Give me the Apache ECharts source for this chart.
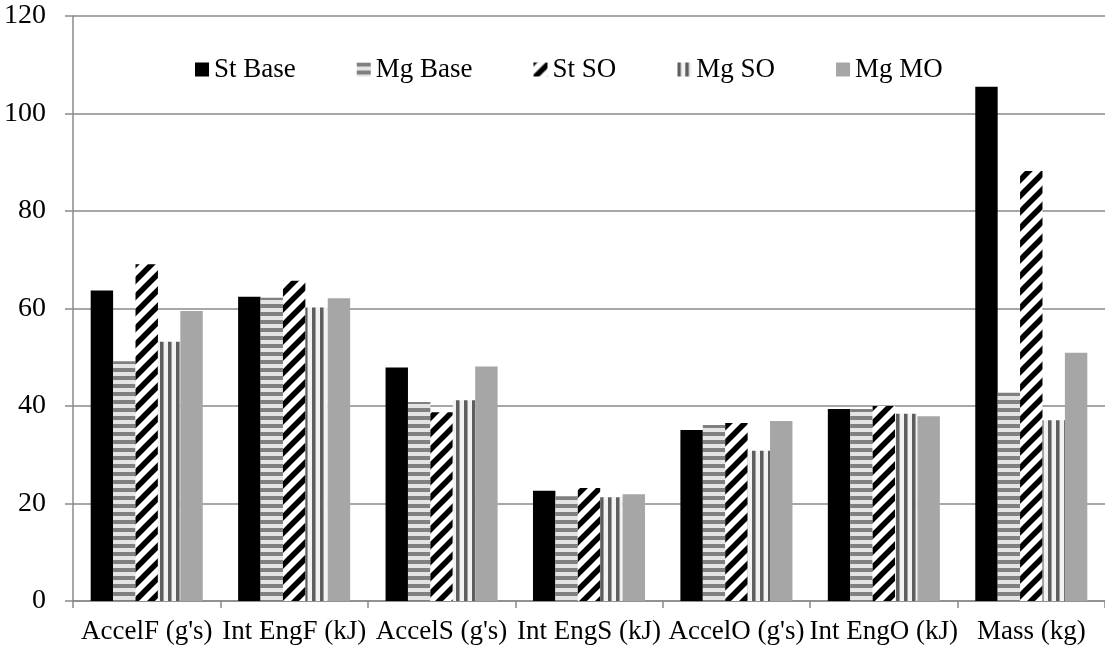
<!DOCTYPE html>
<html>
<head>
<meta charset="utf-8">
<script src="https://cdn.jsdelivr.net/npm/echarts@6/dist/echarts.min.js"></script>
<style>
html,body{margin:0;padding:0;background:#fff;}
#chart{width:1105px;height:663px;}
</style>
</head>
<body>
<div id="chart"></div>
<script>
const categories = ["AccelF (g's)", "Int EngF (kJ)", "AccelS (g's)", "Int EngS (kJ)", "AccelO (g's)", "Int EngO (kJ)", "Mass (kg)"];
const seriesNames = ["St Base", "Mg Base", "St SO", "Mg SO", "Mg MO"];
const stBase = [63.7, 62.4, 47.9, 22.6, 35.1, 39.4, 105.5];
const mgBase = [49.2, 62.2, 40.8, 21.5, 36.1, 39.4, 42.7];
const stSO   = [69.1, 65.7, 38.7, 23.2, 36.5, 40.0, 88.2];
const mgSO   = [53.2, 60.2, 41.2, 21.3, 30.8, 38.4, 37.1];
const mgMO   = [59.5, 62.1, 48.1, 21.9, 36.9, 37.9, 50.9];
const yTicks = [0, 20, 40, 60, 80, 100, 120];

function makeCanvas(w, h, draw) {
  const c = document.createElement('canvas');
  c.width = w; c.height = h;
  const ctx = c.getContext('2d');
  draw(ctx, w, h);
  return c;
}
const hStripes = makeCanvas(8, 8, (ctx, w, h) => {
  ctx.fillStyle = '#e4e4e4'; ctx.fillRect(0, 0, w, h);
  ctx.fillStyle = '#808080'; ctx.fillRect(0, 0, w, 4);
});
const vStripes = makeCanvas(8, 8, (ctx, w, h) => {
  ctx.fillStyle = '#f2f2f2'; ctx.fillRect(0, 0, w, h);
  ctx.fillStyle = '#5e5e5e'; ctx.fillRect(0, 0, 3, h);
  ctx.fillStyle = '#a0a0a0'; ctx.fillRect(3, 0, 1, h);
});
const dStripes = makeCanvas(16, 16, (ctx, w, h) => {
  ctx.fillStyle = '#ffffff'; ctx.fillRect(0, 0, w, h);
  ctx.strokeStyle = '#000000'; ctx.lineWidth = 5.5;
  ctx.beginPath();
  for (let k = -1; k <= 1; k++) {
    ctx.moveTo(-4 + k * w, h + 4);
    ctx.lineTo(w + 4 + k * w, -4);
  }
  ctx.stroke();
});

const fills = [
  '#000000',
  { image: hStripes, repeat: 'repeat' },
  { image: dStripes, repeat: 'repeat' },
  { image: vStripes, repeat: 'repeat' },
  '#a6a6a6'
];
const values = [stBase, mgBase, stSO, mgSO, mgMO];

const chart = echarts.init(document.getElementById('chart'), null, { renderer: 'canvas' });
const font = '"Liberation Serif", "Times New Roman", serif';
chart.setOption({
  animation: false,
  backgroundColor: '#ffffff',
  textStyle: { fontFamily: font },
  grid: { left: 73, right: 0, top: 16, bottom: 62 },
  legend: {
    left: 190, top: 51,
    itemWidth: 14, itemHeight: 14, itemGap: 61,
    textStyle: { fontFamily: font, fontSize: 27, color: '#000' },
    data: seriesNames.map(n => ({ name: n, icon: 'rect' }))
  },
  xAxis: {
    type: 'category',
    data: categories,
    axisLine: { lineStyle: { color: '#8a8a8a', width: 1.5 } },
    axisTick: { show: true, length: 7, lineStyle: { color: '#8a8a8a', width: 1.5 } },
    axisLabel: { fontFamily: font, fontSize: 27, color: '#000', margin: 17, interval: 0 }
  },
  yAxis: {
    type: 'value', min: yTicks[0], max: yTicks[yTicks.length - 1], interval: 20,
    axisLine: { show: true, lineStyle: { color: '#8a8a8a', width: 1.5 } },
    axisTick: { show: true, length: 8, lineStyle: { color: '#8a8a8a', width: 1.5 } },
    splitLine: { show: true, lineStyle: { color: '#8a8a8a', width: 1.5 } },
    axisLabel: { fontFamily: font, fontSize: 28, color: '#000', margin: 27 }
  },
  series: seriesNames.map((n, i) => ({
    name: n,
    type: 'bar',
    data: values[i],
    barGap: '0%',
    barCategoryGap: '24%',
    itemStyle: { color: fills[i] }
  }))
});
</script>
</body>
</html>
